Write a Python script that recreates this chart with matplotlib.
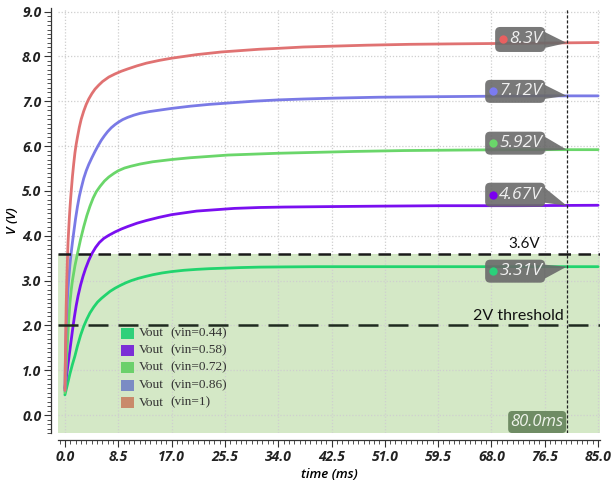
import matplotlib
matplotlib.use("Agg")
import matplotlib.pyplot as plt
import matplotlib.transforms as mtransforms
from matplotlib.patches import FancyBboxPatch, Polygon, Rectangle
from matplotlib.ticker import MultipleLocator

# ---------------- data ----------------
t_044 = [0, 0.4, 0.8, 1.2, 1.6, 2.0, 2.5, 3.0, 3.5, 4.0, 4.6, 5.2, 5.8, 6.4, 7.2, 8.0, 8.8, 9.7, 10.6, 11.7,
         12.8, 14, 15.5, 17, 19, 21, 23, 25, 28, 31, 35, 40, 50, 85]
v_044 = [0.45, 0.68, 0.92, 1.13, 1.32, 1.54, 1.78, 1.98, 2.14, 2.28, 2.41, 2.52, 2.6, 2.67, 2.76, 2.83, 2.89, 2.95, 3.0, 3.05,
         3.09, 3.13, 3.17, 3.2, 3.23, 3.25, 3.265, 3.275, 3.29, 3.3, 3.305, 3.31, 3.31, 3.31]

t_058 = [0, 0.3, 0.6, 0.9, 1.2, 1.5, 1.8, 2.1, 2.5, 2.9, 3.3, 3.8, 4.3, 4.9, 5.5, 6.2, 7.0, 8.0, 9.0, 10,
         11.5, 13, 15, 17, 19, 21, 24, 27, 31, 35, 42, 50, 60, 72, 85]
v_058 = [0.6, 0.92, 1.24, 1.56, 1.88, 2.18, 2.44, 2.66, 2.9, 3.1, 3.27, 3.45, 3.6, 3.74, 3.85, 3.94, 4.01, 4.085, 4.15, 4.205,
         4.28, 4.34, 4.41, 4.47, 4.51, 4.55, 4.58, 4.61, 4.63, 4.64, 4.65, 4.66, 4.67, 4.67, 4.68]

t_072 = [0, 0.2, 0.4, 0.6, 0.8, 1.0, 1.2, 1.6, 2.0, 2.5, 3.0, 3.5, 4.0, 4.5, 5.0, 5.6, 6.3, 7.0, 7.8, 8.5,
         9.5, 10.5, 12, 14, 17, 20, 23, 26, 30, 34, 40, 46, 54, 62, 72, 85]
v_072 = [0.5, 1.05, 1.6, 2.1, 2.5, 2.78, 3.0, 3.33, 3.6, 3.92, 4.2, 4.45, 4.66, 4.84, 4.98, 5.1, 5.22, 5.31, 5.39, 5.45,
         5.51, 5.55, 5.6, 5.65, 5.7, 5.74, 5.77, 5.8, 5.82, 5.84, 5.86, 5.88, 5.9, 5.91, 5.92, 5.92]

t_086 = [0, 0.1, 0.2, 0.3, 0.45, 0.6, 0.8, 1.0, 1.2, 1.45, 1.7, 2.0, 2.3, 2.6, 3.0, 3.4, 3.8, 4.3, 4.8, 5.3,
         5.8, 6.3, 6.8, 7.4, 8.0, 8.5, 9.2, 10, 11, 12, 13.5, 15, 17, 20, 23, 26, 30, 34, 38, 43, 50, 58, 66, 75, 85]
v_086 = [0.55, 1.4, 1.95, 2.32, 2.72, 3.02, 3.35, 3.62, 3.85, 4.12, 4.38, 4.65, 4.88, 5.06, 5.28, 5.45, 5.59, 5.74, 5.88, 6.01,
         6.13, 6.23, 6.32, 6.41, 6.48, 6.53, 6.59, 6.64, 6.69, 6.73, 6.77, 6.8, 6.84, 6.89, 6.93, 6.96, 7.0, 7.03, 7.05, 7.07, 7.09, 7.1, 7.11, 7.12, 7.12]

t_100 = [0, 0.1, 0.2, 0.3, 0.4, 0.5, 0.6, 0.7, 0.8, 0.9, 1.0, 1.2, 1.4, 1.6, 1.8, 2.0, 2.3, 2.6, 3.0, 3.4,
         3.8, 4.3, 4.8, 5.4, 6.0, 7.0, 8.0, 9.0, 10, 11.5, 13, 15, 17, 19, 21, 23, 25, 28, 31, 34, 38, 43, 48,
         55, 62, 70, 78, 85]
v_100 = [0.55, 1.5, 2.4, 3.0, 3.45, 3.85, 4.12, 4.38, 4.6, 4.8, 4.98, 5.32, 5.6, 5.85, 6.04, 6.2, 6.42, 6.6, 6.78, 6.93,
         7.05, 7.17, 7.27, 7.36, 7.44, 7.54, 7.61, 7.67, 7.72, 7.79, 7.85, 7.91, 7.96, 8.0, 8.04, 8.07, 8.1, 8.13, 8.16, 8.18, 8.21, 8.23, 8.25,
         8.27, 8.28, 8.29, 8.3, 8.31]

legend_labels = ["(vin=0.44)", "(vin=0.58)", "(vin=0.72)", "(vin=0.86)", "(vin=1)"]
series_name = "Vout"
final_labels = ["3.31V", "4.67V", "5.92V", "7.12V", "8.3V"]
final_values = [3.31, 4.67, 5.92, 7.12, 8.3]
cursor_time = 80.0
cursor_label = "80.0ms"
threshold_hi = 3.6
threshold_hi_label = "3.6V"
threshold_lo = 2.0
threshold_lo_label = "2V threshold"
x_ticks = [0.0, 8.5, 17.0, 25.5, 34.0, 42.5, 51.0, 59.5, 68.0, 76.5, 85.0]
y_ticks = [0.0, 1.0, 2.0, 3.0, 4.0, 5.0, 6.0, 7.0, 8.0, 9.0]

# ---------------- style ----------------
line_colors = ["#22d46e", "#7a0ff0", "#6ad66a", "#7a7ae6", "#e07272"]
legend_colors = ["#2fd07a", "#7b2fd6", "#6bd06b", "#7b8cc4", "#c98a6a"]
dot_colors = ["#2ad07a", "#7a00f0", "#6ad66a", "#7b7bf0", "#e86060"]
fill_color = "#d4e8c6"

W, H = 613, 483
fig = plt.figure(figsize=(W / 100, H / 100), dpi=100)
ax = fig.add_axes([58 / W, 50 / H, 542 / W, 425 / H])
ax.set_xlim(-1.1, 85.3)
ax.set_ylim(-0.4, 9.08)

ax.axhspan(-0.4, threshold_hi, facecolor=fill_color, edgecolor="none", zorder=0.3)

series = [(t_044, v_044), (t_058, v_058), (t_072, v_072), (t_086, v_086), (t_100, v_100)]
for (t, v), c in zip(series, line_colors):
    ax.plot(t, v, color=c, lw=2.0, zorder=2, solid_capstyle="round", solid_joinstyle="round")

ax.axhline(threshold_hi, color="#1a1a1a", lw=1.8, dashes=(5, 3), zorder=3)
ax.axhline(threshold_lo, color="#1f2a1f", lw=1.8, dashes=(8, 4), zorder=3)
ax.axvline(cursor_time, color="#222222", lw=0.9, dashes=(2.5, 1.5), zorder=3)

# grid
ax.set_xticks(x_ticks)
ax.set_yticks(y_ticks)
ax.xaxis.set_minor_locator(MultipleLocator(0.85))
ax.yaxis.set_minor_locator(MultipleLocator(0.1))
ax.grid(True, which="major", color="#cfcfcf", lw=0.9, ls=(0, (1, 1.5)), zorder=0.5)
ax.set_axisbelow(True)

for s in ["top", "right"]:
    ax.spines[s].set_visible(False)
for s in ["left", "bottom"]:
    ax.spines[s].set_position(("outward", 5))
    ax.spines[s].set_color("#333333")
    ax.spines[s].set_linewidth(0.9)

tickfont = dict(family="Open Sans", weight="bold", style="italic", size=10)
ax.set_xticklabels([f"{v:.1f}" for v in x_ticks], **tickfont, color="#222222")
ax.set_yticklabels([f"{v:.1f}" for v in y_ticks], **tickfont, color="#222222")
ax.tick_params(which="major", length=5, width=0.8, color="#333333", pad=2)
ax.tick_params(which="minor", length=3, width=0.6, color="#333333")

ax.set_xlabel("time (ms)", family="Open Sans", style="italic", weight="semibold", size=9.5, labelpad=3)
ax.set_ylabel("V (V)", family="Open Sans", style="italic", weight="semibold", size=9.5, labelpad=2)

# value callouts at cursor
box_offsets = [(-16, 7), (-1, 23), (-5, 18), (-7, 16), (-9, 16)]  # pixel (bottom, top) relative to point
for lab, val, dc, (yb, yt) in zip(final_labels, final_values, dot_colors, box_offsets):
    tr = fig.dpi_scale_trans + mtransforms.ScaledTranslation(cursor_time, val, ax.transData)
    right = -21.6
    left = -71.6 if len(lab) <= 4 else -81.6
    box = FancyBboxPatch((left / 100, yb / 100), (right - left) / 100, (yt - yb) / 100,
                         boxstyle="round,pad=0,rounding_size=0.05", transform=tr,
                         facecolor="#6a6a6a", edgecolor="none", alpha=0.9, zorder=6)
    ax.add_patch(box)
    tail = Polygon([(right / 100 - 0.005, (yt - 5) / 100), (0, 0), (right / 100 - 0.005, (yb + 4) / 100)],
                   closed=True, transform=tr, facecolor="#6a6a6a", edgecolor="none", alpha=0.9, zorder=6)
    ax.add_patch(tail)
    ymid = (yb + yt) / 200
    ax.plot([(left + 8) / 100], [ymid], marker="o", ms=6, color=dc, mec="none", transform=tr, zorder=7)
    ax.text((left + 14) / 100, ymid, lab, transform=tr, ha="left", va="center", color="#f0f0f0",
            family="Open Sans", style="italic", size=12.5, zorder=8)

# cursor time box
trb = fig.dpi_scale_trans + mtransforms.ScaledTranslation(cursor_time, -0.4, ax.transData)
tbox = FancyBboxPatch((-58.6 / 100, 0), 58 / 100, 22 / 100, boxstyle="round,pad=0,rounding_size=0.04",
                      transform=trb, facecolor="#6f8c64", edgecolor="none", zorder=6)
ax.add_patch(tbox)
ax.text(-29.6 / 100, 10.5 / 100, cursor_label, transform=trb, ha="center", va="center",
        color="#eef3ea", family="Open Sans", style="italic", size=12, zorder=8)

# threshold labels
tr36 = fig.dpi_scale_trans + mtransforms.ScaledTranslation(cursor_time, threshold_hi, ax.transData)
ax.text(-26.6 / 100, 5.5 / 100, threshold_hi_label, transform=tr36, ha="right", va="baseline",
        family="Lato", size=11, color="#111111", zorder=8)
tr2 = fig.dpi_scale_trans + mtransforms.ScaledTranslation(cursor_time, threshold_lo, ax.transData)
ax.text(-3.5 / 100, 5.5 / 100, threshold_lo_label, transform=tr2, ha="right", va="baseline",
        family="Lato", size=11.5, color="#111111", zorder=8)

# legend (manual)
ys = [333, 350, 367.5, 385, 402.7]
for lab, c, py in zip(legend_labels, legend_colors, ys):
    ax.add_patch(Rectangle((121 / W, 1 - (py + 5.5) / H), 13 / W, 11 / H, transform=fig.transFigure,
                           facecolor=c, edgecolor="none", zorder=7))
    fig.text(139 / W, 1 - py / H, series_name, ha="left", va="center", family="Liberation Serif",
             size=9.5, color="#333333", zorder=8)
    fig.text(170 / W, 1 - py / H, lab, ha="left", va="center", family="Liberation Serif",
             size=9.5, color="#333333", zorder=8)

fig.savefig("out.png", dpi=100)
